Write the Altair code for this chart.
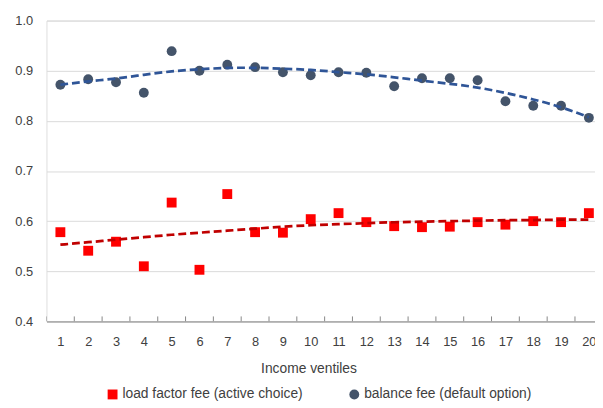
import altair as alt
import pandas as pd

ventiles = list(range(1, 21))
load_factor = [0.578, 0.541, 0.559, 0.510, 0.637, 0.503, 0.654, 0.578, 0.577, 0.604,
               0.616, 0.598, 0.590, 0.588, 0.589, 0.598, 0.593, 0.600, 0.598, 0.616]
balance = [0.872, 0.883, 0.877, 0.856, 0.939, 0.900, 0.912, 0.907, 0.897, 0.891,
           0.897, 0.896, 0.869, 0.885, 0.885, 0.881, 0.839, 0.830, 0.830, 0.806]
load_trend = [0.553, 0.558, 0.563, 0.568, 0.573, 0.577, 0.581, 0.585, 0.589, 0.592,
              0.594, 0.596, 0.598, 0.599, 0.600, 0.601, 0.602, 0.602, 0.603, 0.603]
balance_trend = [0.872, 0.879, 0.884, 0.892, 0.899, 0.903, 0.906, 0.906, 0.904, 0.902,
                 0.897, 0.893, 0.887, 0.880, 0.874, 0.867, 0.856, 0.843, 0.828, 0.807]
boundaries = [i + 0.5 for i in range(0, 21)]
series_names = ["load factor fee (active choice)", "balance fee (default option)"]
y_ticks = [0.4, 0.5, 0.6, 0.7, 0.8, 0.9, 1.0]

pts = pd.DataFrame({
    "ventile": ventiles * 2,
    "value": load_factor + balance,
    "series": [series_names[0]] * 20 + [series_names[1]] * 20,
})
trend_l = pd.DataFrame({"ventile": ventiles, "value": load_trend})
trend_b = pd.DataFrame({"ventile": ventiles, "value": balance_trend})
ticks = pd.DataFrame({"b": boundaries})

xscale = alt.Scale(domain=[0.5, 20.22], nice=False, zero=False)
yscale = alt.Scale(domain=[0.4, 1.0], nice=False, zero=False)

FONT = "Liberation Sans"
TXT = "#404040"

x_axis = alt.Axis(values=ventiles, ticks=False, grid=False, domain=True,
                  domainColor="#868686", domainWidth=1, labelFontSize=13,
                  labelColor=TXT, labelFont=FONT, labelPadding=14,
                  title="Income ventiles", titleFontSize=14, titleFontWeight="normal",
                  titleColor=TXT, titleFont=FONT, titleX=265.6, titleY=48,
                  titleBaseline="middle", titleAnchor="start", titleAlign="center",
                  labelFlush=False, labelOverlap=False, labelSeparation=0)
y_axis = alt.Axis(values=y_ticks, format=".1f", ticks=False, domain=False, grid=True,
                  gridColor="#D9D9D9", gridWidth=1, labelFontSize=13, labelColor=TXT,
                  labelFont=FONT, labelPadding=14, title=None)

points = alt.Chart(pts).mark_point(filled=True, opacity=1, strokeWidth=0).encode(
    x=alt.X("ventile:Q", scale=xscale, axis=x_axis),
    y=alt.Y("value:Q", scale=yscale, axis=y_axis),
    color=alt.Color("series:N", scale=alt.Scale(domain=series_names, range=["#FF0000", "#44546A"]),
                    legend=alt.Legend(title=None, orient="none", legendX=60, legendY=372,
                                      direction="horizontal", labelFontSize=14, labelFont=FONT,
                                      labelColor=TXT, symbolSize=90, labelOffset=3,
                                      labelLimit=400, columnPadding=45,
                                      symbolStrokeWidth=0, padding=0)),
    shape=alt.Shape("series:N", scale=alt.Scale(domain=series_names, range=["square", "circle"]),
                    legend=None),
    size=alt.Size("series:N", scale=alt.Scale(domain=series_names, range=[100, 100]), legend=None),
)

line_l = alt.Chart(trend_l).mark_line(color="#C00000", strokeWidth=2.75, strokeDash=[8, 4],
                                      interpolate="basis").encode(
    x=alt.X("ventile:Q", scale=xscale, axis=x_axis),
    y=alt.Y("value:Q", scale=yscale, axis=y_axis))
line_b = alt.Chart(trend_b).mark_line(color="#2F5597", strokeWidth=2.75, strokeDash=[8, 4],
                                      interpolate="basis").encode(
    x=alt.X("ventile:Q", scale=xscale, axis=x_axis),
    y=alt.Y("value:Q", scale=yscale, axis=y_axis))

tick_rules = alt.Chart(ticks).mark_rule(color="#868686", strokeWidth=1, clip=True).encode(
    x=alt.X("b:Q", scale=xscale, axis=x_axis),
    y=alt.Y(datum=0.4, scale=yscale, axis=y_axis),
    y2=alt.datum(0.41))

chart = alt.layer(points, tick_rules, line_l, line_b).properties(
    width=556, height=305,
    autosize=alt.AutoSizeParams(type="none"),
    padding={"left": 39, "top": 10, "right": 0, "bottom": 84},
).configure_view(stroke=None).configure(font=FONT)

chart.save("out.html", embed_options={"renderer": "svg", "actions": False})
